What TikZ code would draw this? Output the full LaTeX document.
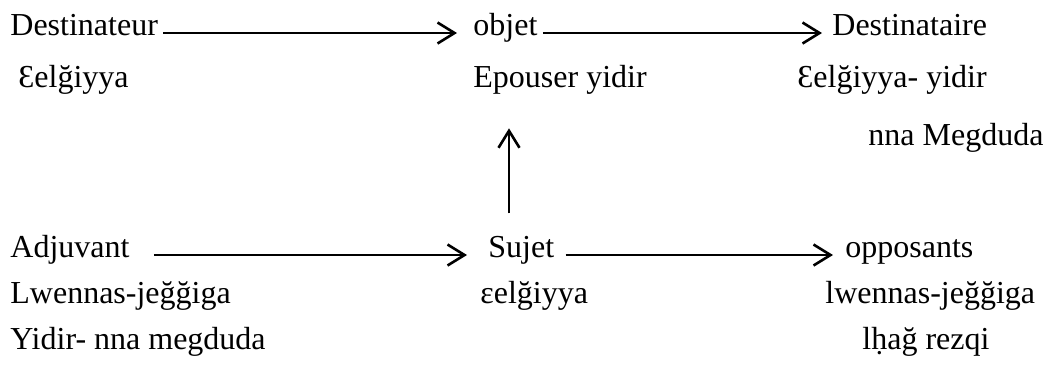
\documentclass[tikz,border=0pt]{standalone}
\usepackage{fontspec}
\setmainfont{Liberation Serif}
\usetikzlibrary{arrows.meta}
\usetikzlibrary{positioning}

\begin{document}
\begin{tikzpicture}[x=0.5pt, y=-0.5pt,
    lbl/.style={inner sep=0pt, anchor=base west, font=\fontsize{16}{19}\selectfont},
    arr/.style={line width=1.3pt, -{Straight Barb[length=8.5pt, width=10.5pt, line width=1.3pt]}}]
    \useasboundingbox (0,0) rectangle (1044,372);
    % Top row
    \node[lbl] (dest)  at (10,35)  {Destinateur};
    \node[lbl] (obj)   at (473,35) {objet};
    \node[lbl] (desti) at (832,35) {Destinataire};
    \node[lbl] (elg)   at (18,87)  {Ɛelğiyya};
    \node[lbl] (epo)   at (473,87) {Epouser yidir};
    \node[lbl] (elgy)  at (797,87) {Ɛelğiyya- yidir};
    \node[lbl] (nna)   at (868,145) {nna Megduda};

    % Bottom row
    \node[lbl] (adj)   at (10,257)  {Adjuvant};
    \node[lbl] (suj)   at (488,257) {Sujet};
    \node[lbl] (opp)   at (845,257) {opposants};
    \node[lbl] (lwen)  at (10,303)  {Lwennas-jeğğiga};
    \node[lbl] (eelg)  at (480,303) {ɛelğiyya};
    \node[lbl] (lwenb) at (825,303) {lwennas-jeğğiga};
    \node[lbl] (yid)   at (10,349)  {Yidir- nna megduda};
    \node[lbl] (lhag)  at (862,349) {lḥağ rezqi};

    % Arrows
    \draw[arr, shorten <=2.5pt, shorten >=8pt]
      ([yshift=1pt]dest.base east) -- ([yshift=1pt]obj.base west);
    \draw[arr, shorten <=2.5pt, shorten >=5pt]
      ([yshift=1pt]obj.base east) -- ([yshift=1pt]desti.base west);
    \draw[arr, shorten <=12pt, shorten >=10.5pt]
      ([yshift=1pt]adj.base east) -- ([yshift=1pt]suj.base west);
    \draw[arr, shorten <=5.5pt, shorten >=6pt]
      ([yshift=1pt]suj.base east) -- ([yshift=1pt]opp.base west);
    \draw[arr, shorten <=11pt, shorten >=17pt]
      ([xshift=10.5pt]suj.north west) -- ([xshift=10.5pt]suj.north west |- epo.south);
\end{tikzpicture}
\end{document}
